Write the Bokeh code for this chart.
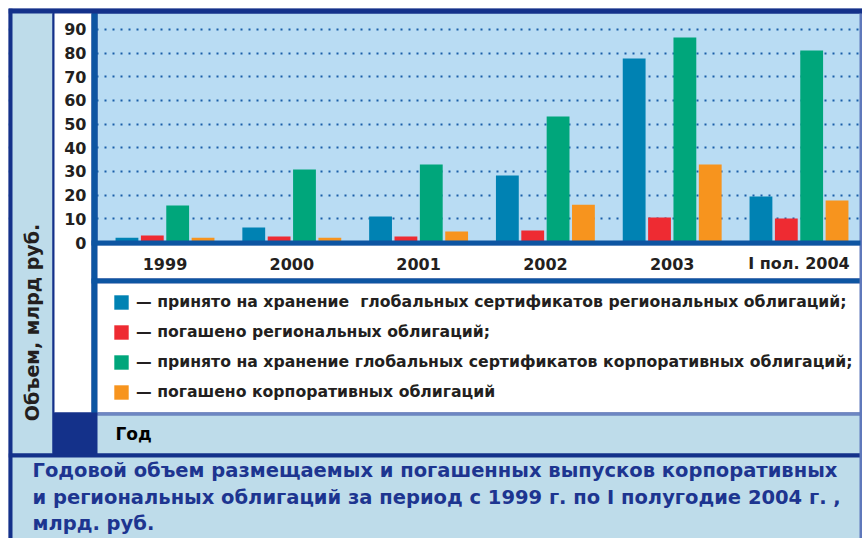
from bokeh.plotting import figure
from bokeh.models import (ColumnDataSource, Range1d, FixedTicker, BoxAnnotation, Label,
                          Legend, LegendItem, Grid)
from bokeh.transform import dodge
from bokeh.core.properties import value
from bokeh.embed import file_html
from bokeh.resources import INLINE
import math

# ---- data ----
categories = ["1999", "2000", "2001", "2002", "2003", "I пол. 2004"]
reg_accepted = [2.0, 6.3, 11.0, 28.3, 77.7, 19.4]     # принято на хранение ГС региональных облигаций
reg_redeemed = [3.0, 2.5, 2.5, 5.1, 10.6, 10.1]       # погашено региональных облигаций
corp_accepted = [15.6, 30.8, 33.0, 53.2, 86.6, 81.1]  # принято на хранение ГС корпоративных облигаций
corp_redeemed = [2.0, 2.0, 4.6, 16.0, 33.0, 17.7]     # погашено корпоративных облигаций
y_ticks = [0, 10, 20, 30, 40, 50, 60, 70, 80, 90]

series_labels = [
    "— принято на хранение  глобальных сертификатов региональных облигаций;",
    "— погашено региональных облигаций;",
    "— принято на хранение глобальных сертификатов корпоративных облигаций;",
    "— погашено корпоративных облигаций",
]
y_title = "Объем, млрд руб."
x_title = "Год"
caption_lines = [
    "Годовой объем размещаемых и погашенных выпусков корпоративных",
    "и региональных облигаций за период с 1999 г. по I полугодие 2004 г. ,",
    "млрд. руб.",
]

# ---- styles / layout (pixels) ----
NAVY = "#14318a"
BLUE_LINE = "#0d55a2"
PANEL = "#bedcea"
PLOT_BG = "#b9dcf3"
TEXT = "#231f20"
CAP = "#1d3590"
COLORS = ["#0082b3", "#ee2b32", "#00a67b", "#f7941e"]
FONT = "DejaVu Sans"

W, H = 862, 538
M = 8                        # white margin round the framed chart
GX0, GDX = 164.5, 126.8      # px of first group centre, px per group
Y0, YK = 242.0, 2.367        # px of value 0, px per unit
PLOT_L, PLOT_R, PLOT_T, PLOT_B = 97, 860, 13, 245

def xd(px):   # pixel -> data x
    return (px - GX0) / GDX

def yd(py):   # pixel -> data y
    return (Y0 - py) / YK

src = ColumnDataSource(dict(idx=list(range(len(categories))), cat=categories,
                            a=reg_accepted, b=reg_redeemed, c=corp_accepted, d=corp_redeemed))

p = figure(width=W, height=H, output_backend="svg", toolbar_location=None,
           x_range=Range1d(xd(M), xd(W)), y_range=Range1d(yd(H), yd(M)),
           x_axis_type=None, y_axis_type=None,
           min_border=0, min_border_left=M, min_border_right=0,
           min_border_top=M, min_border_bottom=0)
p.extra_y_ranges = {"py": Range1d(H, M)}
p.border_fill_color = "white"
p.background_fill_color = NAVY
p.outline_line_color = None

def box(x0, x1, y0, y1, color, level="underlay"):
    b = BoxAnnotation(left=x0, right=x1, top=y0, bottom=y1,
                      left_units="canvas", right_units="canvas",
                      top_units="canvas", bottom_units="canvas",
                      fill_color=color, fill_alpha=1.0, line_alpha=0, level=level)
    p.add_layout(b)

# plot background below the grid
box(PLOT_L, PLOT_R, PLOT_T, PLOT_B, PLOT_BG, level="image")

# dotted horizontal grid
grid = Grid(dimension=1, ticker=FixedTicker(ticks=y_ticks[1:]), level="image",
            grid_line_color="#1a5ea8", grid_line_width=2, grid_line_dash="2 6")
p.add_layout(grid)

# panels drawn over the grid outside the plot area
box(8, 862, 8, 13, NAVY)                    # top frame
box(8, 12, 8, 538, NAVY)                    # left frame
box(12, 52, 13, 453, PANEL)                 # y-title panel
box(52, 54, 13, 453, NAVY)
box(54, 91, 13, 412, "white")               # tick label panel
box(54, 97, 412, 453, NAVY)                 # dark block
box(91, 97, 13, 412, BLUE_LINE)             # left plot border
box(97, 860, 245, 278, "white")             # x label band
box(91, 860, 278, 283, BLUE_LINE)           # separator
box(97, 860, 283, 412, "white")             # legend area
box(97, 860, 412, 415, "#6d86c2")           # thin line
box(97, 860, 415, 453, PANEL)               # "Год" row
box(8, 862, 453, 457, NAVY)
box(12, 860, 457, 538, PANEL)               # caption panel
box(859, 862, 13, 538, "#5f78bb")           # right edge line
box(91, 860, 240, 245, BLUE_LINE, level="annotation")  # baseline stripe

# bars
offsets = [-0.3, -0.1, 0.1, 0.3]
renderers = []
for key, off, col in zip(["a", "b", "c", "d"], offsets, COLORS):
    r = p.vbar(x=dodge("idx", off), top=key, bottom=0, width=0.18, source=src,
               fill_color=col, line_color=None)
    renderers.append(r)

# tick labels
p.text(x=[xd(86)] * len(y_ticks), y=y_ticks, text=[str(t) for t in y_ticks],
       text_align="right", text_baseline="middle", text_font=value(FONT),
       text_font_style="bold", text_font_size="16px", text_color=TEXT)
p.text(x="idx", y=263, y_range_name="py", text="cat", source=src,
       text_align="center", text_baseline="middle", text_font=value(FONT),
       text_font_style="bold", text_font_size="16px", text_color=TEXT)

# legend (location relative to the frame's bottom-left corner)
legend = Legend(items=[LegendItem(label=l, renderers=[r]) for l, r in zip(series_labels, renderers)],
                location=(112 - M, H - 401), orientation="vertical",
                glyph_width=18, glyph_height=18, label_height=18, spacing=11,
                padding=0, margin=0, label_standoff=6,
                label_text_font=FONT, label_text_font_style="bold",
                label_text_font_size="15.7px", label_text_color=TEXT,
                background_fill_alpha=0, border_line_color=None)
p.add_layout(legend)

# texts
p.add_layout(Label(x=31, y=322, x_units="canvas", y_units="canvas", text=y_title,
                   angle=math.pi / 2, text_align="center", text_baseline="middle",
                   text_font=FONT, text_font_style="bold", text_font_size="19px", text_color=TEXT))
p.add_layout(Label(x=115, y=433, x_units="canvas", y_units="canvas", text=x_title,
                   text_align="left", text_baseline="middle",
                   text_font=FONT, text_font_style="bold", text_font_size="17px", text_color="black"))
for i, line in enumerate(caption_lines):
    p.add_layout(Label(x=32, y=470 + i * 26.5, x_units="canvas", y_units="canvas",
                       text=line, text_align="left", text_baseline="middle",
                       text_font=FONT, text_font_style="bold", text_font_size="19.5px",
                       text_color=CAP))

open("out.html", "w").write(file_html(p, INLINE))
